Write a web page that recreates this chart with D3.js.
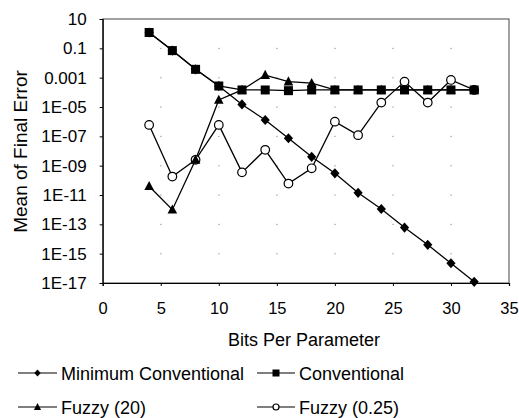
<!DOCTYPE html>
<html>
<head>
<meta charset="utf-8">
<script src="https://cdn.jsdelivr.net/npm/d3@7/dist/d3.min.js"></script>
<style>
  html, body { margin: 0; padding: 0; background: #fff; }
  svg { display: block; font-family: "Liberation Sans", Arial, sans-serif; }
</style>
</head>
<body>
<svg id="chart" width="519" height="418"></svg>
<script>
// ---- Data ----
const bits = [4, 6, 8, 10, 12, 14, 16, 18, 20, 22, 24, 26, 28, 30, 32];
const minimumConventional = [1.2, 0.07, 0.0037, 2.7e-4, 1.5e-5, 1.3e-6, 7.4e-8, 4e-9, 3e-10, 1.4e-11, 1.1e-12, 6e-14, 4e-15, 2.2e-16, 1.2e-17];
const conventional        = [1.2, 0.07, 0.0037, 2.7e-4, 1.45e-4, 1.45e-4, 1.3e-4, 1.45e-4, 1.45e-4, 1.45e-4, 1.45e-4, 1.45e-4, 1.45e-4, 1.45e-4, 1.45e-4];
const fuzzy20             = [4e-11, 1e-12, 2.5e-9, 3e-5, 1.45e-4, 1.5e-3, 5.4e-4, 4.2e-4, 1.45e-4, 1.45e-4, 1.45e-4, 1.45e-4, 1.45e-4, 1.45e-4, 1.45e-4];
const fuzzy025            = [6e-7, 1.8e-10, 2.5e-9, 6e-7, 3.5e-10, 1.2e-8, 6e-11, 6.6e-10, 1e-6, 1.2e-7, 2e-5, 5.4e-4, 2e-5, 7e-4, 1.45e-4];
const xTicks = [0, 5, 10, 15, 20, 25, 30, 35];
const yTicks = [1e1, 1e-1, 1e-3, 1e-5, 1e-7, 1e-9, 1e-11, 1e-13, 1e-15, 1e-17];
const yTickLabels = ["10", "0.1", "0.001", "1E-05", "1E-07", "1E-09", "1E-11", "1E-13", "1E-15", "1E-17"];
const seriesNames = ["Minimum Conventional", "Conventional", "Fuzzy (20)", "Fuzzy (0.25)"];

const svg = d3.select("#chart");
const pL = 102.7, pR = 509, pT = 19, pB = 283;

const x = d3.scaleLinear().domain([0, 35]).range([pL, pR]);
const y = d3.scaleLog().domain([1e-17, 10]).range([pB, pT]);

// grid dots at tick intersections
const gridG = svg.append("g");
xTicks.slice(1, -1).forEach(tx => {
  yTicks.slice(1, -1).forEach(ty => {
    gridG.append("rect").attr("x", x(tx) - 0.5).attr("y", y(ty) - 0.5)
      .attr("width", 1.2).attr("height", 1.2).attr("fill", "#999");
  });
});

// frame
svg.append("rect").attr("x", pL).attr("y", pT).attr("width", pR - pL).attr("height", pB - pT)
  .attr("fill", "none").attr("stroke", "#444").attr("stroke-width", 1);

// axes
const xAxis = d3.axisBottom(x).tickValues(xTicks).tickSize(3).tickPadding(16).tickFormat(d3.format("d"));
const gx = svg.append("g").attr("transform", `translate(0,${pB})`).call(xAxis);
gx.select(".domain").attr("stroke", "#000").attr("stroke-width", 1.2);
gx.selectAll(".tick line").attr("stroke", "#000");
gx.selectAll(".tick text").attr("font-size", 16.5).attr("fill", "#000")
  .attr("font-family", "Liberation Sans, Arial, sans-serif");

const yAxis = d3.axisLeft(y).tickValues(yTicks).tickSize(3).tickPadding(13)
  .tickFormat((d, i) => yTickLabels[i]);
const gy = svg.append("g").attr("transform", `translate(${pL},0)`).call(yAxis);
gy.select(".domain").attr("stroke", "#000").attr("stroke-width", 1.2);
gy.selectAll(".tick line").attr("stroke", "#000");
gy.selectAll(".tick text").attr("font-size", 17).attr("fill", "#000")
  .attr("font-family", "Liberation Sans, Arial, sans-serif");

// titles
svg.append("text").attr("x", 304).attr("y", 346).attr("text-anchor", "middle")
  .attr("font-size", 18).text("Bits Per Parameter");
svg.append("text").attr("transform", "translate(27,151.5) rotate(-90)").attr("text-anchor", "middle")
  .attr("font-size", 19).text("Mean of Final Error");

// marker drawing
function marker(g, type, cx, cy, s) {
  if (type === "diamond") {
    g.append("path").attr("d", `M${cx},${cy - s * 1.1}L${cx + s},${cy}L${cx},${cy + s * 1.1}L${cx - s},${cy}Z`).attr("fill", "#000");
  } else if (type === "square") {
    g.append("rect").attr("x", cx - s).attr("y", cy - s).attr("width", 2 * s).attr("height", 2 * s).attr("fill", "#000");
  } else if (type === "triangle") {
    g.append("path").attr("d", `M${cx},${cy - s * 1.1}L${cx + s},${cy + s * 0.8}L${cx - s},${cy + s * 0.8}Z`).attr("fill", "#000");
  } else if (type === "circle") {
    g.append("circle").attr("cx", cx).attr("cy", cy).attr("r", s).attr("fill", "#fff").attr("stroke", "#000").attr("stroke-width", 1.2);
  }
}

const series = [
  { name: seriesNames[0], vals: minimumConventional, type: "diamond", size: 4.6 },
  { name: seriesNames[1], vals: conventional, type: "square", size: 4.5 },
  { name: seriesNames[2], vals: fuzzy20, type: "triangle", size: 4.8 },
  { name: seriesNames[3], vals: fuzzy025, type: "circle", size: 4.3 }
];

const line = d3.line().x(d => x(d[0])).y(d => y(d[1]));
series.forEach(s => {
  const pts = bits.map((b, i) => [b, s.vals[i]]);
  svg.append("path").attr("d", line(pts)).attr("fill", "none").attr("stroke", "#000").attr("stroke-width", 1.3);
});
[series[3], series[0], series[2], series[1]].forEach(s => {
  const g = svg.append("g");
  bits.forEach((b, i) => marker(g, s.type, x(b), y(s.vals[i]), s.size));
});

// legend
const legendPos = [
  { x1: 18, x2: 57, ty: 373 },
  { x1: 257, x2: 295, ty: 373 },
  { x1: 18, x2: 57, ty: 407 },
  { x1: 257, x2: 295, ty: 407 }
];
const legSizes = [3.2, 3.5, 3.6, 3];
series.forEach((s, i) => {
  const p = legendPos[i];
  const g = svg.append("g");
  g.append("line").attr("x1", p.x1).attr("x2", p.x2).attr("y1", p.ty).attr("y2", p.ty)
    .attr("stroke", "#000").attr("stroke-width", 1.2);
  marker(g, s.type, (p.x1 + p.x2) / 2, p.ty, legSizes[i]);
  g.append("text").attr("x", p.x2 + 4).attr("y", p.ty + 6.5).attr("font-size", 18).text(s.name);
});
</script>
</body>
</html>
